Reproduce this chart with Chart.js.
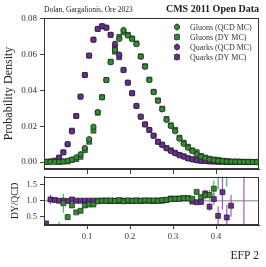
<!DOCTYPE html>
<html>
<head>
<meta charset="utf-8">
<script src="https://cdn.jsdelivr.net/npm/chart.js@4.4.1/dist/chart.umd.min.js"></script>
<style>
  html, body { margin: 0; padding: 0; background: #fff; }
  #wrap { position: relative; width: 266px; height: 267px; }
  canvas { position: absolute; left: 0; }
</style>
</head>
<body>
<div id="wrap">
  <canvas id="main" width="266" height="175" style="top:0"></canvas>
  <canvas id="ratio" width="266" height="95" style="top:172px"></canvas>
</div>
<script>
// bin centres of EFP 2 (width 0.01)
const bins = [0.005, 0.015, 0.025, 0.035, 0.045, 0.055, 0.065, 0.075, 0.085, 0.095,
  0.105, 0.115, 0.125, 0.135, 0.145, 0.155, 0.165, 0.175, 0.185, 0.195,
  0.205, 0.215, 0.225, 0.235, 0.245, 0.255, 0.265, 0.275, 0.285, 0.295,
  0.305, 0.315, 0.325, 0.335, 0.345, 0.355, 0.365, 0.375, 0.385, 0.395,
  0.405, 0.415, 0.425, 0.435, 0.445, 0.455, 0.465, 0.475, 0.485, 0.495];

const gluonQCD = [0, 0, 0.0000, 0.0001, 0.0003, 0.0007, 0.0014, 0.0026, 0.0043, 0.0078,
  0.0128, 0.0197, 0.0279, 0.0361, 0.0458, 0.0557, 0.0626, 0.0687, 0.0737, 0.0706,
  0.0687, 0.0658, 0.0588, 0.0532, 0.0458, 0.0390, 0.0342, 0.0294, 0.0235, 0.0201,
  0.0172, 0.0130, 0.0101, 0.0080, 0.0061, 0.0043, 0.0030, 0.0021, 0.0015, 0.0010,
  0.0007, 0.0005, 0.0003, 0.0002, 0.0002, 0.0001, 0.0001, 0.0001, 0.0000, 0.0000];
const gluonDY = [null, null, null, 0.0000, 0.0003, 0.0003, 0.0012, 0.0016, 0.0029, 0.0066,
  0.0113, 0.0175, 0.0275, 0.0362, 0.0458, 0.0560, 0.0616, 0.0698, 0.0725, 0.0710,
  0.0690, 0.0662, 0.0590, 0.0535, 0.0460, 0.0392, 0.0344, 0.0298, 0.0240, 0.0205,
  0.0180, 0.0136, 0.0108, 0.0085, 0.0065, 0.0055, 0.0034, 0.0025, 0.0018, 0.0014,
  0.0012, 0.0007, 0.0006, 0.0002, 0.0002, 0.0001, 0.0001, 0.0001, 0.0000, 0.0000];
const quarkQCD = [0.0002, 0.0003, 0.0007, 0.0024, 0.0054, 0.0100, 0.0170, 0.0257, 0.0365, 0.0486,
  0.0594, 0.0683, 0.0743, 0.0758, 0.0750, 0.0710, 0.0660, 0.0600, 0.0514, 0.0443,
  0.0384, 0.0313, 0.0253, 0.0210, 0.0179, 0.0147, 0.0113, 0.0095, 0.0076, 0.0061,
  0.0049, 0.0037, 0.0030, 0.0020, 0.0015, 0.0010, 0.0007, 0.0005, 0.0004, 0.0003,
  0.0002, 0.0002, 0.0001, 0.0001, 0.0001, 0.0001, 0.0000, 0.0000, 0.0000, 0.0000];
const quarkDY = [0.0001, 0.0003, 0.0007, 0.0024, 0.0054, 0.0099, 0.0175, 0.0257, 0.0365, 0.0486,
  0.0594, 0.0683, 0.0743, 0.0758, 0.0750, 0.0710, 0.0640, 0.0585, 0.0514, 0.0443,
  0.0384, 0.0313, 0.0253, 0.0210, 0.0179, 0.0147, 0.0113, 0.0097, 0.0078, 0.0065,
  0.0052, 0.0040, 0.0032, 0.0022, 0.0015, 0.0010, 0.0007, 0.0006, 0.0003, 0.0003,
  0.0001, 0.0002, 0.0000, 0.0001, 0.0001, 0.0001, 0.0000, 0.0000, 0.0000, 0.0000];

// DY/QCD ratio and its uncertainty
const gluonRatio = [null, null, null, 0.10, 0.92, 0.48, 0.85, 0.63, 0.68, 0.85,
  0.88, 0.88, 0.98, 1.00, 1.00, 1.01, 0.99, 1.02, 0.98, 1.01,
  1.00, 1.01, 1.00, 1.01, 1.00, 1.01, 1.00, 1.02, 1.03, 1.05,
  1.06, 1.06, 1.08, 1.07, 1.06, 1.28, 1.11, 1.17, 1.18, 1.38,
  2.00, null, 2.00, null, null, null, null, null, null, null];
const gluonErr = [0, 0, 0, 0.23, 0.30, 0.10, 0.08, 0.05, 0.04, 0.03,
  0.02, 0.02, 0.02, 0.01, 0.01, 0.01, 0.01, 0.01, 0.01, 0.01,
  0.01, 0.01, 0.01, 0.01, 0.01, 0.01, 0.01, 0.02, 0.02, 0.02,
  0.03, 0.03, 0.04, 0.05, 0.06, 0.09, 0.10, 0.13, 0.16, 0.25,
  0.65, 0, 0.55, 0, 0, 0, 0, 0, 0, 0];
const quarkRatio = [0.28, 1.04, 1.02, 1.00, 1.00, 0.99, 1.04, 1.00, 1.00, 1.00,
  1.00, 1.00, 1.00, 1.00, 1.00, 0.99, 1.00, 0.99, 1.00, 0.99,
  0.99, 1.00, 0.99, 1.00, 1.00, 0.99, 1.00, 1.00, 1.02, 1.07,
  1.06, 1.07, 1.08, 1.08, 0.97, 0.95, 0.96, 1.23, 0.81, 1.05,
  0.52, 1.27, 0.47, 0.84, null, null, 3.00, null, null, null];
const quarkErr = [0.05, 0.15, 0.08, 0.05, 0.03, 0.02, 0.02, 0.01, 0.01, 0.01,
  0.01, 0.01, 0.01, 0.01, 0.01, 0.01, 0.01, 0.01, 0.01, 0.01,
  0.01, 0.01, 0.01, 0.01, 0.01, 0.01, 0.01, 0.02, 0.02, 0.02,
  0.03, 0.03, 0.04, 0.05, 0.06, 0.07, 0.09, 0.12, 0.13, 0.18,
  0.30, 0.55, 0.40, 0.35, 0, 0, 2.80, 0, 0, 0];

const xTicks = [0.1, 0.2, 0.3, 0.4];
const yTicks = [0, 0.02, 0.04, 0.06, 0.08];
const rTicks = [0.5, 1.0, 1.5];

const green = "#2f8f2f", greenBar = "#4fb34f";
const purple = "#6b2d95", purpleBar = "#9a5cc4";
const edge = "#1e1e1e";
const serif = "'Liberation Serif', 'DejaVu Serif', serif";

function pts(vals) {
  return bins.map((b, i) => ({ x: b, y: vals[i] }));
}

function ds(label, vals, color, bar, style, errs) {
  return {
    label,
    data: pts(vals),
    backgroundColor: color,
    borderColor: edge,
    borderWidth: 0.7,
    pointStyle: style,
    pointRadius: style == "rect" ? 3.5 : 2.7,
    showLine: false,
    barColor: bar,
    errs: errs,
  };
}

// no extra room for the end tick labels, keeps the plot boxes where they are
function fixY(w) {
  return s => { s.width = w; s.paddingTop = 0; s.paddingBottom = 0; };
}
function fixX(h) {
  return s => { s.height = h; s.paddingLeft = 0; s.paddingRight = 0; };
}

const boxPlugin = {
  id: "box",
  afterDraw(chart) {
    const a = chart.chartArea, c = chart.ctx;
    c.save();
    c.strokeStyle = "#333";
    c.lineWidth = 1;
    c.strokeRect(Math.round(a.left) + 0.5, Math.round(a.top) + 0.5,
      Math.round(a.right - a.left) - 1, Math.round(a.bottom - a.top) - 1);
    c.restore();
  }
};

const headerPlugin = {
  id: "header",
  afterDraw(chart) {
    const c = chart.ctx, a = chart.chartArea;
    c.save();
    c.fillStyle = "#222";
    c.textBaseline = "alphabetic";
    c.font = "7.5px " + serif;
    c.textAlign = "left";
    c.fillText("Dolan, Gargalionis, Ore 2023", a.left, 12);
    c.font = "bold 10px " + serif;
    c.textAlign = "right";
    c.fillText("CMS 2011 Open Data", a.right, 12);
    c.restore();
  }
};

const legendPlugin = {
  id: "legendInside",
  afterDraw(chart) {
    const c = chart.ctx;
    c.save();
    chart.data.datasets.forEach((d, i) => {
      const y = 27 + i * 10, x = 177;
      c.strokeStyle = d.barColor;
      c.lineWidth = 1;
      c.beginPath(); c.moveTo(x, y - 4); c.lineTo(x, y + 4); c.stroke();
      c.fillStyle = d.backgroundColor;
      c.strokeStyle = edge;
      c.lineWidth = d.borderWidth;
      c.beginPath();
      if (d.pointStyle == "rect") {
        const s = d.pointRadius * Math.SQRT1_2;
        c.rect(x - s, y - s, 2 * s, 2 * s);
      } else {
        c.arc(x, y, d.pointRadius, 0, Math.PI * 2);
      }
      c.fill(); c.stroke();
      c.fillStyle = "#333";
      c.font = "8px " + serif;
      c.textBaseline = "middle";
      c.textAlign = "left";
      c.fillText(d.label, 190, y + 0.5);
    });
    c.restore();
  }
};

const errPlugin = {
  id: "errbars",
  beforeDatasetsDraw(chart) {
    const c = chart.ctx, a = chart.chartArea;
    const xs = chart.scales.x, ys = chart.scales.y;
    c.save();
    c.beginPath();
    c.rect(a.left, a.top, a.right - a.left, a.bottom - a.top);
    c.clip();
    // reference line at 1
    const y1 = ys.getPixelForValue(1);
    c.strokeStyle = "#aaa";
    c.lineWidth = 1.6;
    c.beginPath(); c.moveTo(a.left, y1); c.lineTo(a.right, y1); c.stroke();
    chart.data.datasets.forEach(d => {
      c.strokeStyle = d.barColor;
      c.lineWidth = 1.2;
      d.data.forEach((p, i) => {
        const e = d.errs[i];
        if (p.y == null || !e) return;
        const px = xs.getPixelForValue(p.x);
        c.beginPath();
        c.moveTo(px, ys.getPixelForValue(p.y - e));
        c.lineTo(px, ys.getPixelForValue(p.y + e));
        c.stroke();
      });
    });
    c.restore();
  }
};

const tickFont = { family: serif, size: 9 };

new Chart(document.getElementById("main"), {
  type: "scatter",
  data: {
    datasets: [
      ds("Gluons (QCD MC)", gluonQCD, green, greenBar, "circle"),
      ds("Gluons (DY MC)", gluonDY, green, greenBar, "rect"),
      ds("Quarks (QCD MC)", quarkQCD, purple, purpleBar, "circle"),
      ds("Quarks (DY MC)", quarkDY, purple, purpleBar, "rect"),
    ]
  },
  options: {
    responsive: false,
    animation: false,
    devicePixelRatio: 1,
    layout: { padding: { top: 18, right: 7, left: 0, bottom: 0 } },
    plugins: { legend: { display: false }, tooltip: { enabled: false } },
    scales: {
      x: {
        type: "linear", min: 0, max: 0.5,
        afterBuildTicks: s => { s.ticks = xTicks.map(v => ({ value: v })); },
        afterFit: fixX(6),
        ticks: { display: false },
        grid: { drawOnChartArea: false, tickLength: 5, color: "#444" },
        border: { color: "#333" },
      },
      y: {
        min: -0.0039, max: 0.0804,
        afterBuildTicks: s => { s.ticks = yTicks.map(v => ({ value: v })); },
        afterFit: fixY(44),
        ticks: { font: tickFont, color: "#333", padding: 3, callback: v => v.toFixed(2) },
        grid: { drawOnChartArea: false, tickLength: 4, color: "#444" },
        border: { color: "#333" },
        title: { display: true, text: "Probability Density", font: { family: serif, size: 12 }, color: "#222", padding: { top: 2, bottom: 0 } },
      }
    }
  },
  plugins: [boxPlugin, headerPlugin, legendPlugin]
});

new Chart(document.getElementById("ratio"), {
  type: "scatter",
  data: {
    datasets: [
      Object.assign(ds("Gluons", gluonRatio, green, greenBar, "rect", gluonErr), { clip: 0 }),
      Object.assign(ds("Quarks", quarkRatio, purple, purpleBar, "rect", quarkErr), { clip: 0 }),
    ]
  },
  options: {
    responsive: false,
    animation: false,
    devicePixelRatio: 1,
    layout: { padding: { top: 2, right: 7, left: 0, bottom: 0 } },
    plugins: { legend: { display: false }, tooltip: { enabled: false } },
    scales: {
      x: {
        type: "linear", min: 0, max: 0.5,
        afterBuildTicks: s => { s.ticks = xTicks.map(v => ({ value: v })); },
        afterFit: fixX(42),
        ticks: { font: { family: serif, size: 8.5 }, color: "#333", padding: 3, maxRotation: 0, callback: v => String(v) },
        grid: { drawOnChartArea: false, tickLength: 4, color: "#444" },
        border: { color: "#333" },
        title: { display: true, text: "EFP 2", align: "end", font: { family: serif, size: 11.5 }, color: "#222", padding: { top: 6, bottom: 4 } },
      },
      y: {
        min: 0.23, max: 1.76,
        afterBuildTicks: s => { s.ticks = rTicks.map(v => ({ value: v })); },
        afterFit: fixY(44),
        ticks: { font: { family: serif, size: 8.5 }, color: "#333", padding: 3, callback: v => v.toFixed(1) },
        grid: { drawOnChartArea: false, tickLength: 4, color: "#444" },
        border: { color: "#333" },
        title: { display: true, text: "DY/QCD", font: { family: serif, size: 9.5 }, color: "#222", padding: { top: 10, bottom: 0 } },
      }
    }
  },
  plugins: [errPlugin, boxPlugin]
});
</script>
</body>
</html>
